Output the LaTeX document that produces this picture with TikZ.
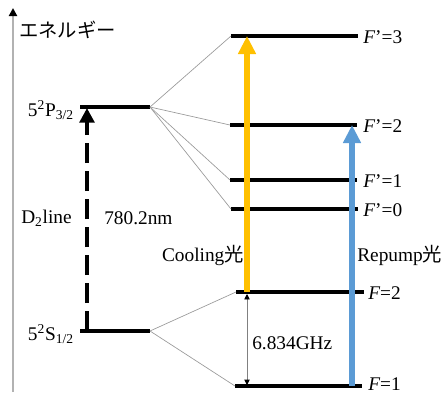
\documentclass[tikz,border=0pt]{standalone}
\usepackage{fontspec}
\setmainfont{Liberation Serif}
\newfontfamily\jpfont{Noto Sans CJK JP}
\usetikzlibrary{arrows.meta}
\definecolor{coolorange}{RGB}{255,192,0}
\definecolor{repblue}{RGB}{91,155,213}
\tikzset{
  level/.style={line width=3pt},
  link/.style={draw=gray!80, line width=0.5pt},
  txt/.style={font=\fontsize{14.5}{16}\selectfont, inner sep=0pt},
  beam/.style={line width=4.5pt, -{Triangle[width=12.75pt,length=13.5pt]}},
}
\begin{document}
\begin{tikzpicture}[x=0.75pt,y=-0.75pt]
\useasboundingbox (0,0) rectangle (441,394);
% energy axis
\coordinate (ax0) at (13,392);
\coordinate (ax1) at (13,8);
\draw[gray!60, line width=1.5pt, -{Triangle[width=6pt,length=6pt,color=black]}] (ax0) -- (ax1);
\node[anchor=west, inner sep=0pt, font=\jpfont\fontsize{14.5}{16}\selectfont] (axlbl) at (19,30) {エネルギー};
% fine structure
\coordinate (pl) at (80,107);  \coordinate (pr) at (150,107);
\coordinate (sl) at (80,331);  \coordinate (sr) at (150,331);
\draw[level] (pl) -- (pr);
\draw[level] (sl) -- (sr);
\node[txt, anchor=east] (plbl) at (74,110) {5\textsuperscript{2}P\textsubscript{3/2}};
\node[txt, anchor=east] (slbl) at (74,334) {5\textsuperscript{2}S\textsubscript{1/2}};
% hyperfine levels
\coordinate (e3l) at (231,36);  \coordinate (e3r) at (358,36);
\coordinate (e2l) at (230,125); \coordinate (e2r) at (357,125);
\coordinate (e1l) at (230,180); \coordinate (e1r) at (357,180);
\coordinate (e0l) at (231,209); \coordinate (e0r) at (358,209);
\coordinate (g2l) at (236,292); \coordinate (g2r) at (364,292);
\coordinate (g1l) at (235,386); \coordinate (g1r) at (362,386);
\foreach \a/\b in {e3l/e3r,e2l/e2r,e1l/e1r,e0l/e0r,g2l/g2r,g1l/g1r}
  \draw[level] (\a) -- (\b);
\foreach \a in {e3l,e2l,e1l,e0l}
  \draw[link] (pr) -- (\a);
\foreach \a in {g2l,g1l}
  \draw[link] (sr) -- (\a);
\node[txt, anchor=west] (e3lbl) at (363,37) {\textit{F}’=3};
\node[txt, anchor=west] (e2lbl) at (363,126) {\textit{F}’=2};
\node[txt, anchor=west] (e1lbl) at (363,181) {\textit{F}’=1};
\node[txt, anchor=west] (e0lbl) at (363,210) {\textit{F}’=0};
\node[txt, anchor=west] (g2lbl) at (368,293) {\textit{F}=2};
\node[txt, anchor=base west] (g1lbl) at (368,390) {\textit{F}=1};
% D2 transition
\coordinate (d0) at (87,331);
\coordinate (d1) at (87,108);
\draw[line width=3.5pt, dash pattern=on 15pt off 6pt, -{Triangle[width=11pt,length=11pt]}] (d0) -- (d1);
\node[txt, anchor=west] (dlbl) at (21,218) {D\textsubscript{2}line};
\node[txt, anchor=west] (wlbl) at (104,218) {780.2nm};
% lasers
\coordinate (c0) at (247,292); \coordinate (c1) at (247,36);
\coordinate (r0) at (352,386); \coordinate (r1) at (352,125);
\draw[beam, coolorange] (c0) -- (c1);
\draw[beam, repblue] (r0) -- (r1);
\node[txt, anchor=east] (clbl) at (244,255) {Cooling{\jpfont 光}};
\node[txt, anchor=west] (rlbl) at (357,255) {Repump{\jpfont 光}};
% ground splitting
\coordinate (h0) at (247,294); \coordinate (h1) at (247,385);
\draw[gray, line width=0.5pt, {Triangle[width=4pt,length=4pt,color=black]}-{Triangle[width=4pt,length=4pt,color=black]}] (h0) -- (h1);
\node[txt, anchor=west] (hlbl) at (252,343) {6.834GHz};
\end{tikzpicture}
\end{document}
